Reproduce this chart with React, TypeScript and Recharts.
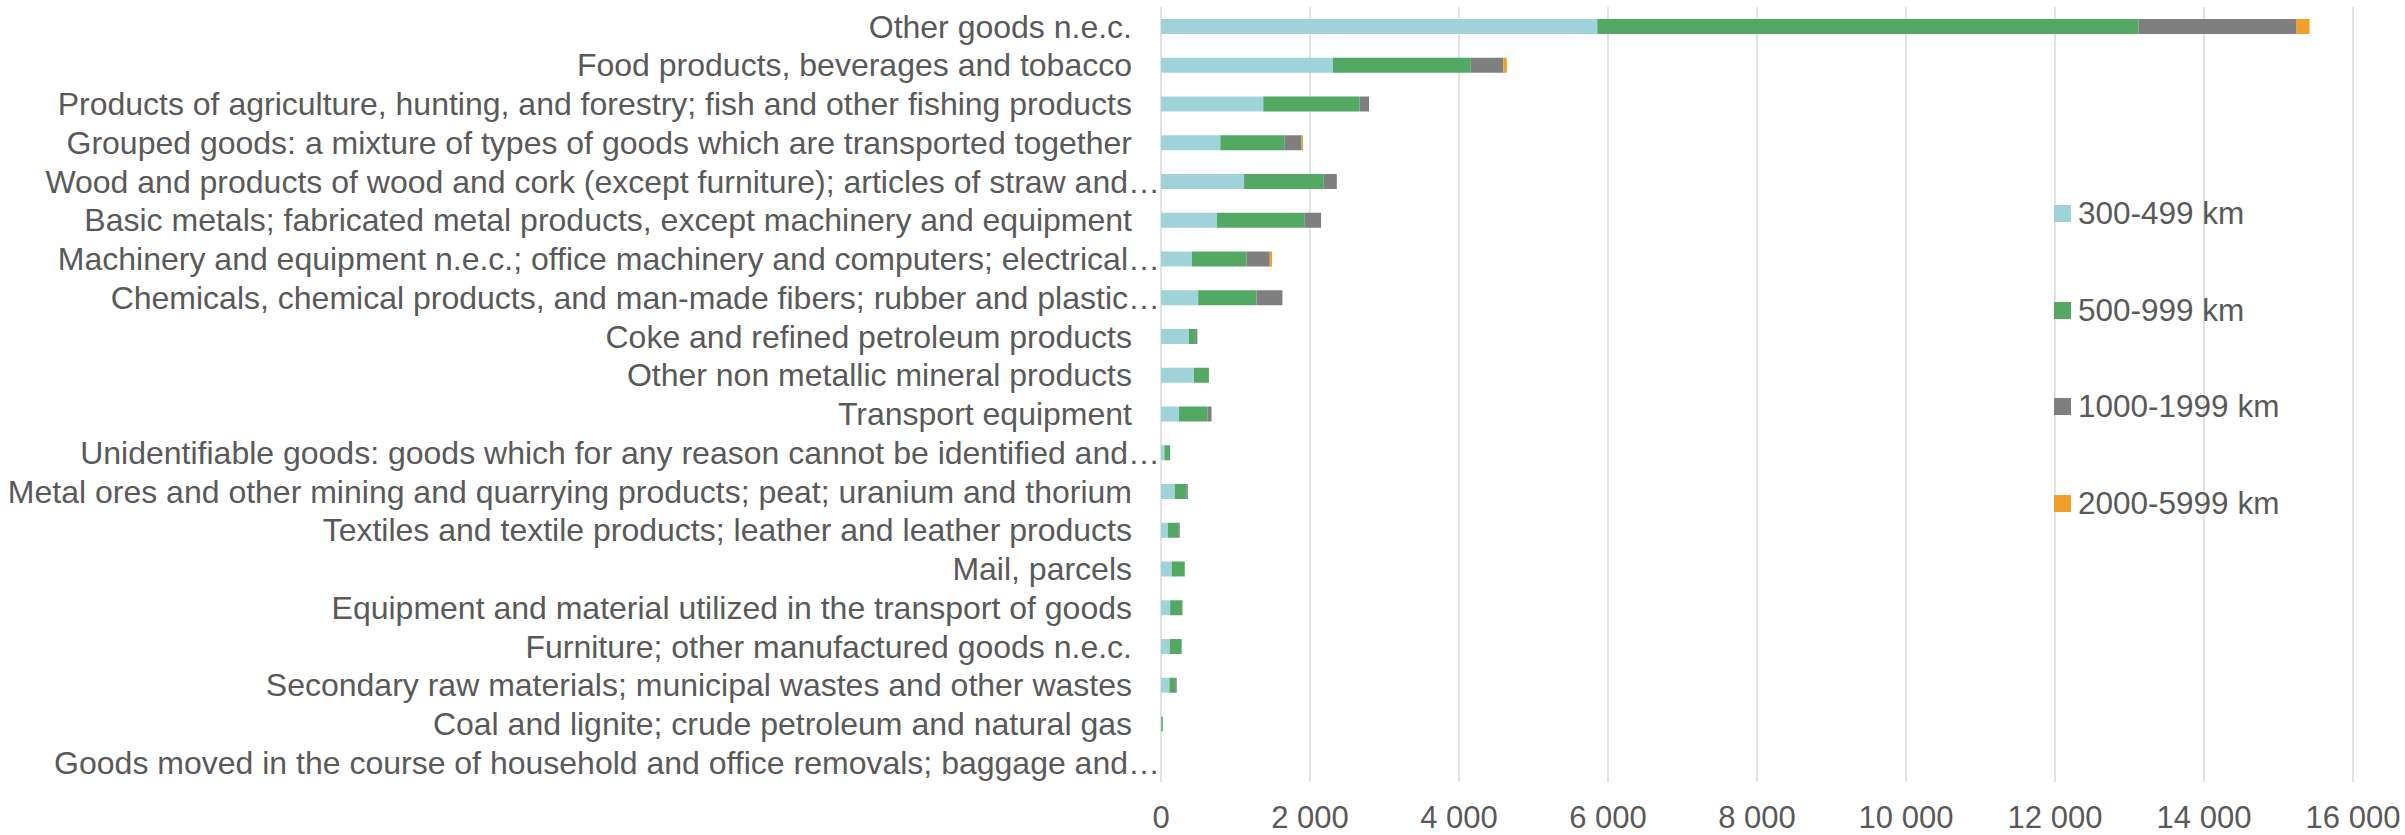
import React from "react";
import { BarChart, Bar, XAxis, YAxis, CartesianGrid } from "recharts";

const categories = [
  "Other goods n.e.c.",
  "Food products, beverages and tobacco",
  "Products of agriculture, hunting, and forestry; fish and other fishing products",
  "Grouped goods: a mixture of types of goods which are transported together",
  "Wood and products of wood and cork (except furniture); articles of straw and…",
  "Basic metals; fabricated metal products, except machinery and equipment",
  "Machinery and equipment n.e.c.; office machinery and computers; electrical…",
  "Chemicals, chemical products, and man-made fibers; rubber and plastic…",
  "Coke and refined petroleum products",
  "Other non metallic mineral products",
  "Transport equipment",
  "Unidentifiable goods: goods which for any reason cannot be identified and…",
  "Metal ores and other mining and quarrying products; peat; uranium and thorium",
  "Textiles and textile products; leather and leather products",
  "Mail, parcels",
  "Equipment and material utilized in the transport of goods",
  "Furniture; other manufactured goods n.e.c.",
  "Secondary raw materials; municipal wastes and other wastes",
  "Coal and lignite; crude petroleum and natural gas",
  "Goods moved in the course of household and office removals; baggage and…",
];

// tonnes by distance band
const km300 = [5856, 2308, 1373, 797, 1115, 751, 416, 499, 375, 442, 242, 46, 185, 93, 144, 123, 118, 113, 5, 0];
const km500 = [7266, 1851, 1290, 858, 1070, 1172, 730, 781, 93, 201, 380, 77, 154, 138, 175, 165, 160, 77, 20, 0];
const km1000 = [2121, 437, 129, 232, 175, 226, 314, 350, 20, 0, 57, 0, 21, 21, 0, 0, 0, 21, 0, 0];
const km2000 = [174, 46, 0, 20, 0, 0, 31, 0, 0, 0, 0, 0, 0, 0, 0, 0, 0, 0, 0, 0];

const xTicks = [0, 2000, 4000, 6000, 8000, 10000, 12000, 14000, 16000];

const series = [
  { key: "km300", name: "300-499 km", color: "#9fd3d9", values: km300 },
  { key: "km500", name: "500-999 km", color: "#53a963", values: km500 },
  { key: "km1000", name: "1000-1999 km", color: "#7f7f7f", values: km1000 },
  { key: "km2000", name: "2000-5999 km", color: "#f0a02a", values: km2000 },
];

const data = categories.map((category, i) => {
  const row: any = { category };
  series.forEach((s) => (row[s.key] = s.values[i]));
  return row;
});

const TEXT = "#595959";

const fmt = (v: number) => String(v).replace(/\B(?=(\d{3})+(?!\d))/g, " ");

function CategoryTick(props: any) {
  const { x, y, payload } = props;
  const label: string = payload.value;
  const cut = label.endsWith("…");
  return (
    <text x={cut ? x - 1 : x - 29} y={y} dy="0.35em" textAnchor="end" fontSize={32} fill={TEXT}>
      {label}
    </text>
  );
}

export default function App() {
  return (
    <div
      style={{
        position: "absolute",
        left: 0,
        top: 0,
        width: 2405,
        height: 835,
        background: "#fff",
        fontFamily: "'Liberation Sans', Arial, sans-serif",
      }}
    >
      <BarChart
        width={2405}
        height={835}
        data={data}
        layout="vertical"
        margin={{ top: 7, right: 52, bottom: 7, left: 0 }}
        barSize={15}
      >
        <CartesianGrid horizontal={false} stroke="#d9d9d9" strokeWidth={1.5} />
        <XAxis
          type="number"
          domain={[0, 16000]}
          ticks={xTicks}
          tickFormatter={fmt}
          axisLine={false}
          tickLine={false}
          tickSize={0}
          tickMargin={24}
          height={46}
          tick={{ fontSize: 31, fill: TEXT }}
        />
        <YAxis
          type="category"
          dataKey="category"
          width={1161}
          axisLine={false}
          tickLine={false}
          tickSize={0}
          tickMargin={0}
          interval={0}
          tick={<CategoryTick />}
        />
        {series.map((s) => (
          <Bar
            key={s.key}
            dataKey={s.key}
            name={s.name}
            stackId="a"
            fill={s.color}
            isAnimationActive={false}
          />
        ))}
      </BarChart>

      <div style={{ position: "absolute", left: 2054, top: 165 }}>
        {series.map((s) => (
          <div key={s.key} style={{ height: 96.7, display: "flex", alignItems: "center" }}>
            <div style={{ width: 17, height: 17, background: s.color }} />
            <span style={{ marginLeft: 7, fontSize: 31.5, color: TEXT }}>{s.name}</span>
          </div>
        ))}
      </div>
    </div>
  );
}
